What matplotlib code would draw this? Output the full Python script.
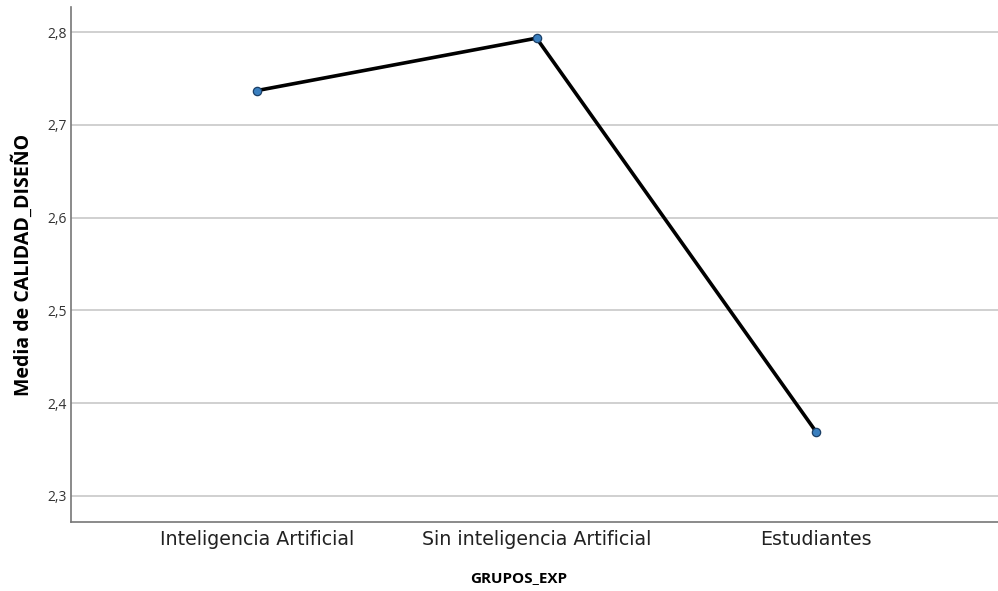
import matplotlib
matplotlib.use("Agg")
import matplotlib.pyplot as plt
from matplotlib.ticker import FuncFormatter

plt.rcParams['font.family'] = ['Open Sans', 'DejaVu Sans']

grupos = ['Inteligencia Artificial', 'Sin inteligencia Artificial', 'Estudiantes']
medias = [2.737, 2.7935, 2.369]
yticks = [2.3, 2.4, 2.5, 2.6, 2.7, 2.8]

fig = plt.figure(figsize=(9.98, 5.91), dpi=100)
ax = fig.add_axes([0.0711, 0.1168, 0.9289, 0.8712])

x = list(range(len(grupos)))
ax.plot(x, medias, color='black', lw=2.6, zorder=3)
ax.plot(x, medias, 'o', ms=6, mfc='#3a7fbf', mec='#1b3f66', mew=0.9, zorder=4)

ax.set_xlim(-0.665, 2.65)
ax.set_ylim(2.272, 2.827)
ax.set_yticks(yticks)
ax.yaxis.set_major_formatter(FuncFormatter(lambda v, p: ('%.1f' % v).replace('.', ',')))
ax.set_xticks(x)
ax.set_xticklabels(grupos, fontsize=13.7, color='#222222', family=['DejaVu Sans'])
ax.tick_params(axis='y', labelsize=10, colors='#333333', length=0, pad=3)
ax.tick_params(axis='x', length=0, pad=6)

ax.grid(axis='y', color='#c8c8c8', lw=1.2)
ax.set_axisbelow(True)
for s in ['top', 'right']:
    ax.spines[s].set_visible(False)
for s in ['left', 'bottom']:
    ax.spines[s].set_color('#777777')
    ax.spines[s].set_linewidth(1.2)

ax.set_ylabel('Media de CALIDAD_DISEÑO', fontsize=14, fontweight='bold', labelpad=10)
ax.set_xlabel('GRUPOS_EXP', fontsize=11, fontweight='bold')
ax.xaxis.set_label_coords(0.483, -0.095)

fig.savefig('out.png', dpi=100)
